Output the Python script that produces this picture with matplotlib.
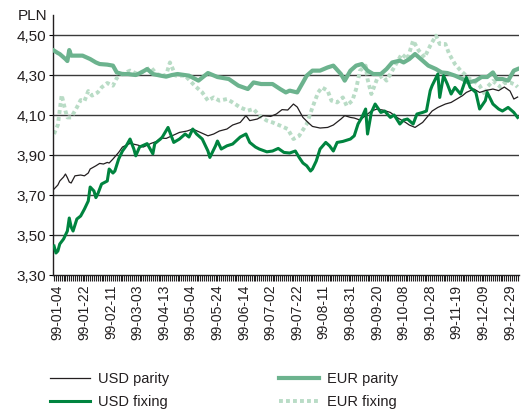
import matplotlib
matplotlib.use("Agg")
import matplotlib.pyplot as plt
from matplotlib.ticker import FixedLocator, MultipleLocator

plt.rcParams['font.family'] = ['Liberation Sans', 'DejaVu Sans']

# ---- data (trading-day index -> PLN) ----
tick_labels = ["99-01-04", "99-01-22", "99-02-11", "99-03-03", "99-04-13", "99-05-04",
               "99-05-24", "99-06-14", "99-07-02", "99-07-22", "99-08-11", "99-08-31",
               "99-09-20", "99-10-08", "99-10-28", "99-11-19", "99-12-09", "99-12-29"]

usd_fix_days = [0, 1, 2, 3, 5, 7, 8, 9, 10, 12, 14, 16, 18, 19, 21, 22, 23, 25, 28, 29, 31, 32, 34,
                36, 38, 40, 42, 43, 45, 49, 52, 53, 56, 57, 60, 63, 66, 69, 71, 73, 75, 78, 81, 82,
                85, 86, 88, 91, 94, 98, 101, 103, 106, 108, 112, 115, 118, 121, 124, 127, 129, 131,
                133, 135, 136, 138, 140, 143, 145, 147, 149, 152, 156, 158, 160, 162, 164, 165, 167,
                169, 172, 174, 177, 179, 182, 184, 186, 189, 191, 194, 196, 198, 199, 202, 203, 205,
                207, 209, 211, 214, 217, 219, 222, 224, 227, 228, 231, 234, 236, 239, 242, 244]
usd_fix_vals = [3.445, 3.41, 3.42, 3.455, 3.48, 3.52, 3.585, 3.54, 3.52, 3.58, 3.595, 3.63, 3.67,
                3.74, 3.72, 3.687, 3.705, 3.755, 3.77, 3.83, 3.81, 3.82, 3.88, 3.92, 3.946, 3.98,
                3.93, 3.896, 3.94, 3.957, 3.906, 3.957, 3.98, 3.99, 4.038, 3.963, 3.98, 4.005, 3.99,
                4.03, 4.005, 3.98, 3.92, 3.888, 3.946, 3.97, 3.93, 3.946, 3.955, 3.99, 4.005, 3.963,
                3.94, 3.93, 3.916, 3.92, 3.933, 3.913, 3.91, 3.92, 3.888, 3.86, 3.846, 3.82, 3.83,
                3.87, 3.93, 3.963, 3.946, 3.92, 3.963, 3.968, 3.98, 3.996, 4.055, 4.088, 4.13, 4.005,
                4.113, 4.155, 4.113, 4.12, 4.088, 4.1, 4.055, 4.075, 4.08, 4.055, 4.105, 4.113, 4.12,
                4.222, 4.247, 4.305, 4.188, 4.297, 4.255, 4.205, 4.238, 4.205, 4.288, 4.238, 4.213,
                4.13, 4.172, 4.213, 4.155, 4.13, 4.12, 4.138, 4.113, 4.088]

usd_par_days = [0, 2, 3, 5, 6, 7, 8, 9, 11, 14, 16, 18, 19, 22, 24, 26, 28, 29, 31, 34, 36, 40, 44,
                47, 51, 54, 56, 59, 63, 66, 70, 73, 77, 81, 84, 87, 91, 94, 98, 101, 103, 107, 110,
                114, 117, 120, 123, 126, 128, 131, 134, 136, 140, 144, 147, 151, 153, 156, 158, 161,
                164, 167, 170, 173, 177, 181, 185, 187, 190, 194, 197, 199, 202, 206, 209, 212, 215,
                217, 221, 224, 227, 231, 234, 237, 240, 242, 244]
usd_par_vals = [3.73, 3.75, 3.77, 3.79, 3.805, 3.787, 3.765, 3.76, 3.796, 3.80, 3.796, 3.81, 3.83,
                3.846, 3.858, 3.855, 3.863, 3.86, 3.88, 3.913, 3.94, 3.958, 3.95, 3.94, 3.958, 3.968,
                3.985, 3.983, 4.0, 4.013, 4.02, 4.03, 4.013, 3.996, 4.005, 4.02, 4.03, 4.05, 4.063,
                4.097, 4.072, 4.08, 4.097, 4.093, 4.105, 4.127, 4.125, 4.155, 4.14, 4.088, 4.06,
                4.043, 4.035, 4.038, 4.05, 4.08, 4.097, 4.088, 4.085, 4.075, 4.097, 4.12, 4.13, 4.125,
                4.113, 4.085, 4.063, 4.05, 4.038, 4.063, 4.097, 4.12, 4.138, 4.155, 4.163, 4.18,
                4.197, 4.213, 4.23, 4.213, 4.222, 4.23, 4.222, 4.24, 4.22, 4.18, 4.19]

eur_par_days = [0, 2, 3, 6, 7, 8, 9, 12, 15, 19, 22, 24, 28, 31, 33, 36, 39, 43, 46, 49, 52, 56, 59,
                62, 65, 71, 76, 81, 86, 92, 97, 102, 105, 109, 115, 119, 122, 124, 128, 131, 133,
                136, 140, 144, 147, 151, 153, 156, 159, 162, 165, 168, 172, 175, 178, 182, 184, 187,
                190, 194, 197, 201, 204, 207, 211, 215, 218, 222, 225, 228, 231, 233, 236, 239, 242,
                244]
eur_par_vals = [4.422, 4.41, 4.405, 4.38, 4.37, 4.425, 4.397, 4.397, 4.397, 4.38, 4.363, 4.355,
                4.352, 4.347, 4.313, 4.305, 4.305, 4.30, 4.313, 4.33, 4.305, 4.297, 4.292, 4.30,
                4.305, 4.297, 4.272, 4.31, 4.29, 4.28, 4.247, 4.23, 4.263, 4.255, 4.255, 4.23, 4.213,
                4.222, 4.213, 4.263, 4.297, 4.322, 4.322, 4.338, 4.347, 4.305, 4.272, 4.322, 4.347,
                4.355, 4.322, 4.305, 4.305, 4.33, 4.363, 4.372, 4.363, 4.38, 4.405, 4.372, 4.347,
                4.33, 4.313, 4.31, 4.297, 4.28, 4.263, 4.272, 4.29, 4.29, 4.313, 4.28, 4.28, 4.272,
                4.322, 4.33]

eur_fix_days = [0, 1, 2, 4, 6, 7, 9, 12, 14, 16, 18, 20, 23, 25, 28, 31, 33, 36, 40, 44, 47, 51, 54,
                57, 59, 61, 64, 69, 74, 78, 81, 84, 87, 91, 94, 98, 102, 105, 108, 112, 115, 119, 123,
                126, 129, 133, 136, 139, 141, 144, 146, 149, 152, 154, 157, 159, 161, 164, 165, 167,
                170, 173, 175, 178, 181, 183, 186, 189, 192, 195, 198, 201, 203, 206, 208, 211, 214,
                216, 219, 222, 224, 227, 228, 231, 235, 237, 240, 243, 244]
eur_fix_vals = [4.005, 4.03, 4.05, 4.2, 4.12, 4.088, 4.088, 4.138, 4.175, 4.17, 4.22, 4.197, 4.213,
                4.238, 4.26, 4.247, 4.285, 4.305, 4.322, 4.305, 4.32, 4.338, 4.305, 4.297, 4.30,
                4.363, 4.297, 4.297, 4.247, 4.213, 4.172, 4.188, 4.172, 4.18, 4.163, 4.138, 4.122,
                4.13, 4.097, 4.072, 4.063, 4.047, 4.03, 3.98, 3.996, 4.055, 4.138, 4.213, 4.238,
                4.222, 4.172, 4.163, 4.188, 4.147, 4.172, 4.23, 4.322, 4.347, 4.28, 4.205, 4.28,
                4.297, 4.272, 4.322, 4.372, 4.405, 4.38, 4.472, 4.422, 4.388, 4.447, 4.497, 4.455,
                4.455, 4.405, 4.355, 4.322, 4.305, 4.28, 4.263, 4.247, 4.2, 4.24, 4.27, 4.24, 4.26,
                4.263, 4.25, 4.24]

n_days = 245
label_step = 14
label_offset = 2

# ---- styles ----
TEXT = '#231f20'
C_USD_PAR = '#231f20'
C_USD_FIX = '#00843f'
C_EUR_PAR = '#6cb38e'
C_EUR_FIX = '#b9dcc6'

fig = plt.figure(figsize=(5.24, 4.12), dpi=100)
ax = fig.add_axes([0.101, 0.3325, 0.889, 0.631])

ax.set_ylim(3.30, 4.60)
ax.set_xlim(-0.6, n_days - 0.4)

yt = [3.30, 3.50, 3.70, 3.90, 4.10, 4.30, 4.50]
ax.set_yticks(yt)
ax.set_yticklabels([f"{v:.2f}".replace('.', ',') for v in yt])
for v in yt[1:]:
    ax.axhline(v, color='#3a3a3a', lw=1.0, zorder=1)

ax.plot(eur_fix_days, eur_fix_vals, color=C_EUR_FIX, lw=2.8, ls=(0, (1.0, 0.8)),
        zorder=2, label='EUR fixing')
ax.plot(eur_par_days, eur_par_vals, color=C_EUR_PAR, lw=3.0, zorder=3,
        solid_joinstyle='round', label='EUR parity')
ax.plot(usd_par_days, usd_par_vals, color=C_USD_PAR, lw=0.9, zorder=4, label='USD parity')
ax.plot(usd_fix_days, usd_fix_vals, color=C_USD_FIX, lw=2.2, zorder=5,
        solid_joinstyle='round', label='USD fixing')

major = [label_offset + label_step * k for k in range(len(tick_labels))]
ax.xaxis.set_major_locator(FixedLocator(major))
ax.set_xticklabels(tick_labels, rotation=90, fontsize=10, color=TEXT)
ax.xaxis.set_minor_locator(MultipleLocator(1))
ax.tick_params(axis='x', which='both', direction='out', length=4, width=0.8, color='#231f20',
               pad=3)
ax.tick_params(axis='y', which='major', direction='out', length=3, width=0.8, labelsize=11,
               labelcolor=TEXT, pad=2)

for s in ['top', 'right']:
    ax.spines[s].set_visible(False)
for s in ['left', 'bottom']:
    ax.spines[s].set_color('#231f20')
    ax.spines[s].set_linewidth(1.0)

fig.text(0.034, 0.962, 'PLN', fontsize=11, color=TEXT, ha='left', va='center')

handles = {l.get_label(): l for l in ax.get_lines()}
order = ['USD parity', 'USD fixing', 'EUR parity', 'EUR fixing']
leg = fig.legend([handles[k] for k in order], order, ncol=2, loc='upper left',
                 bbox_to_anchor=(0.0954, 0.097), frameon=False, fontsize=10.5,
                 handlelength=2.75, handletextpad=0.55, columnspacing=7.5, labelspacing=0.62,
                 borderpad=0, borderaxespad=0)
for t in leg.get_texts():
    t.set_color(TEXT)

fig.savefig('out.png', dpi=100)
